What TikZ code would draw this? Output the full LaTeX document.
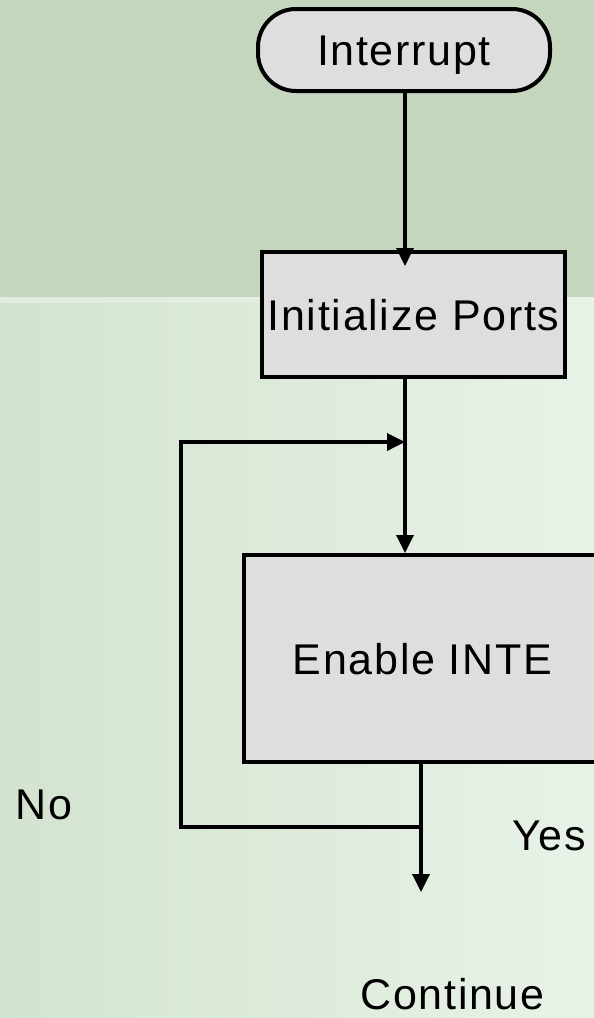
\documentclass[tikz,border=0pt]{standalone}
\usepackage{fontspec}
\setmainfont{Liberation Sans}
\newfontfamily\lblfont[LetterSpace=4]{Liberation Sans}
\usetikzlibrary{arrows.meta,calc}
\definecolor{bandtop}{HTML}{C4D6BE}
\definecolor{stripeL}{HTML}{DFEBDD}
\definecolor{stripeR}{HTML}{E8F2E6}
\definecolor{lowL}{HTML}{D4E3D0}
\definecolor{lowR}{HTML}{E8F3E7}
\definecolor{boxgray}{HTML}{DEDEDE}
\begin{document}
\begin{tikzpicture}[x=1pt,y=-1pt,
  txt/.style={font=\lblfont\fontsize{43}{50}\selectfont},
  box/.style={txt, draw=black, line width=4pt, fill=boxgray,
    text height=31pt, text depth=0pt, inner sep=0pt},
  arr/.style={line width=3.5pt, -{Triangle[length=18pt,width=17pt]}},
  lbl/.style={txt, inner sep=0pt, anchor=base}]
\useasboundingbox (0,0) rectangle (594,1018);
% background
\fill[bandtop] (0,0) rectangle (594,297);
\shade[left color=stripeL, right color=stripeR] (0,297) rectangle (594,303);
\shade[left color=lowL, right color=lowR] (0,303) rectangle (594,1018);
% nodes
\node[box, rounded corners=38pt, minimum width=292pt, minimum height=82pt] (int) at (404,50) {Interrupt};
\node[box, minimum width=303pt, minimum height=125pt] (init) at (413.5,314.5) {Initialize Ports};
\node[box, minimum width=357pt, minimum height=207pt] (enable) at (422.5,658.5) {Enable INTE};
% labels
\node[lbl] (no) at (44,819) {No};
\node[lbl] (yes) at (549,850) {Yes};
\node[lbl] (cont) at (452.5,1009) {Continue};
% coordinates
\coordinate (t1) at (405,266);
\coordinate (j1) at (405,442);
\coordinate (c2) at (181,442);
\coordinate (c1) at (181,827);
\coordinate (j2) at (421,827);
\coordinate (endp) at (421,892);
% connectors
\draw[arr] (int.south -| t1) -- (t1);
\draw[arr] (init.south -| j1) -- (enable.north -| j1);
\draw[arr] (j2) -- (c1) -- (c2) -- (j1);
\draw[arr] (enable.south -| j2) -- (endp);
\end{tikzpicture}
\end{document}
